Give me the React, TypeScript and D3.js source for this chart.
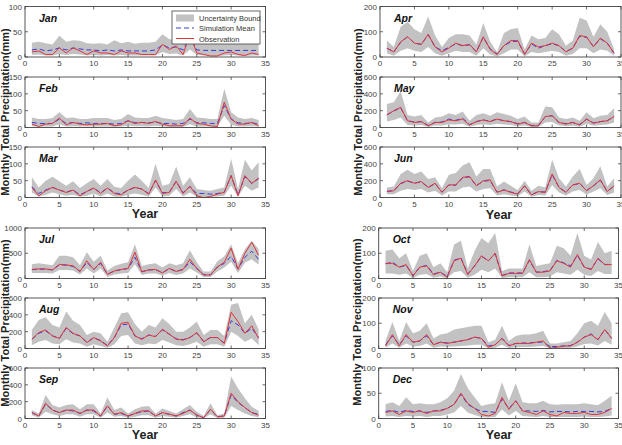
import React from 'react';
import * as d3 from 'd3';

const years = [1, 2, 3, 4, 5, 6, 7, 8, 9, 10, 11, 12, 13, 14, 15, 16, 17, 18, 19, 20, 21, 22, 23, 24, 25, 26, 27, 28, 29, 30, 31, 32, 33, 34];
const xTicks = [0, 5, 10, 15, 20, 25, 30, 35];

// Jan
const janObs = [10, 12, 5, 5, 18, 8, 18, 12, 5, 12, 8, 8, 5, 12, 8, 8, 5, 5, 5, 25, 15, 22, 5, 45, 8, 5, 2, 2, 8, 10, 5, 3, 8, 5];
const janSim = [14, 16, 12, 14, 18, 14, 18, 16, 14, 14, 12, 14, 12, 14, 12, 12, 12, 12, 14, 24, 18, 20, 14, 40, 14, 13, 13, 13, 13, 13, 13, 13, 13, 13];
const janHi = [28, 30, 27, 25, 42, 30, 33, 32, 27, 26, 27, 25, 33, 27, 30, 26, 28, 28, 30, 45, 35, 35, 30, 55, 30, 28, 28, 28, 28, 28, 28, 28, 28, 28];
const janLo = [4, 5, 3, 3, 6, 4, 6, 5, 3, 4, 3, 4, 3, 4, 3, 3, 3, 3, 3, 10, 6, 7, 3, 15, 4, 3, 2, 2, 3, 4, 3, 2, 3, 3];
// Feb
const febObs = [10, 3, 10, 12, 28, 8, 15, 10, 8, 10, 10, 12, 5, 8, 20, 12, 15, 12, 18, 10, 5, 5, 5, 28, 12, 10, 5, 3, 75, 25, 10, 10, 15, 5];
const febSim = [15, 12, 12, 12, 25, 12, 15, 12, 14, 12, 12, 12, 10, 12, 20, 14, 15, 14, 16, 12, 12, 10, 12, 25, 14, 14, 12, 12, 65, 25, 14, 12, 14, 10];
const febHi = [30, 25, 25, 28, 45, 28, 30, 25, 25, 28, 28, 28, 22, 25, 40, 30, 28, 28, 35, 28, 25, 22, 25, 55, 30, 28, 25, 25, 115, 45, 30, 25, 28, 22];
const febLo = [4, 2, 3, 3, 10, 3, 4, 3, 3, 3, 3, 3, 2, 3, 6, 4, 4, 3, 5, 3, 2, 2, 2, 10, 3, 3, 2, 2, 35, 8, 3, 3, 4, 2];
// Mar
const marObs = [30, 5, 20, 30, 22, 15, 22, 5, 18, 28, 12, 28, 12, 8, 22, 30, 25, 10, 52, 12, 15, 48, 12, 33, 5, 0, 3, 10, 15, 65, 5, 65, 42, 58];
const marSim = [32, 12, 22, 30, 22, 16, 22, 8, 18, 28, 14, 28, 14, 10, 22, 30, 25, 12, 50, 14, 16, 48, 14, 33, 12, 12, 10, 12, 16, 65, 8, 62, 42, 56];
const marHi = [60, 30, 50, 62, 48, 35, 48, 28, 42, 55, 35, 55, 32, 28, 50, 68, 50, 28, 100, 35, 40, 92, 35, 60, 25, 22, 20, 25, 30, 115, 25, 112, 80, 105];
const marLo = [15, 2, 8, 15, 10, 5, 8, 2, 5, 12, 3, 12, 3, 2, 8, 12, 8, 2, 30, 3, 5, 25, 3, 15, 2, 2, 2, 3, 5, 35, 2, 35, 20, 30];
// Apr
const aprObs = [35, 20, 60, 80, 55, 50, 90, 40, 20, 35, 55, 45, 50, 20, 80, 30, 10, 45, 65, 65, 10, 55, 40, 45, 55, 45, 20, 35, 85, 80, 40, 75, 55, 15];
const aprSim = [35, 20, 58, 80, 55, 50, 88, 40, 25, 38, 52, 45, 48, 22, 78, 32, 12, 45, 60, 63, 12, 52, 35, 45, 52, 45, 22, 35, 82, 78, 42, 72, 55, 15];
const aprHi = [65, 40, 120, 140, 110, 95, 160, 85, 40, 75, 90, 90, 85, 50, 135, 60, 20, 95, 110, 115, 30, 85, 70, 75, 110, 90, 45, 65, 155, 145, 80, 130, 100, 30];
const aprLo = [15, 5, 25, 35, 25, 20, 40, 15, 5, 15, 25, 20, 20, 5, 35, 10, 2, 15, 30, 30, 2, 20, 15, 20, 25, 20, 5, 12, 35, 35, 15, 30, 25, 5];
// May
const mayObs = [150, 200, 240, 80, 60, 70, 20, 60, 60, 90, 80, 100, 30, 70, 90, 70, 100, 80, 70, 40, 60, 20, 20, 130, 140, 60, 40, 60, 30, 100, 50, 70, 80, 130];
const maySim = [150, 195, 235, 80, 65, 70, 25, 60, 65, 100, 85, 110, 35, 70, 90, 75, 100, 80, 70, 45, 60, 25, 25, 130, 140, 60, 45, 60, 35, 100, 55, 70, 80, 130];
const mayHi = [280, 300, 430, 150, 130, 150, 60, 120, 130, 170, 150, 190, 80, 150, 170, 140, 180, 160, 140, 100, 130, 60, 60, 250, 240, 120, 100, 120, 80, 180, 110, 140, 150, 230];
const mayLo = [70, 90, 120, 30, 25, 30, 5, 25, 25, 40, 35, 45, 10, 30, 40, 30, 45, 35, 30, 15, 25, 5, 5, 60, 65, 25, 15, 20, 10, 45, 20, 30, 35, 60];
// Jun
const junObs = [70, 80, 170, 200, 170, 190, 120, 170, 60, 150, 150, 240, 250, 140, 200, 210, 60, 90, 60, 40, 140, 30, 70, 60, 280, 120, 60, 150, 170, 80, 140, 210, 70, 140];
const junSim = [75, 80, 165, 195, 170, 185, 120, 165, 65, 150, 145, 235, 245, 140, 195, 200, 65, 90, 65, 45, 135, 35, 70, 65, 270, 120, 65, 150, 165, 85, 140, 205, 75, 135];
const junHi = [120, 130, 280, 330, 280, 310, 220, 240, 110, 270, 290, 380, 420, 250, 340, 340, 130, 190, 140, 90, 200, 80, 140, 120, 450, 230, 130, 250, 340, 150, 230, 370, 130, 230];
const junLo = [40, 40, 80, 100, 90, 100, 60, 80, 25, 70, 70, 120, 130, 70, 100, 110, 25, 40, 25, 15, 70, 10, 30, 25, 150, 60, 25, 70, 90, 35, 70, 110, 30, 60];
// Jul
const julObs = [180, 190, 190, 170, 280, 270, 250, 140, 350, 180, 320, 80, 150, 180, 200, 520, 130, 170, 180, 110, 200, 140, 180, 380, 200, 70, 70, 230, 320, 600, 180, 500, 720, 460];
const julSim = [175, 185, 185, 170, 270, 265, 240, 140, 320, 180, 300, 85, 150, 175, 200, 420, 135, 170, 175, 115, 195, 140, 175, 330, 200, 75, 75, 225, 300, 440, 190, 420, 540, 380];
const julHi = [280, 300, 280, 260, 450, 450, 420, 260, 520, 330, 450, 160, 250, 290, 320, 680, 250, 280, 300, 220, 300, 260, 300, 560, 320, 140, 140, 340, 440, 680, 300, 580, 750, 580];
const julLo = [110, 110, 110, 100, 170, 170, 160, 80, 200, 100, 200, 30, 80, 100, 110, 280, 70, 100, 100, 60, 110, 70, 100, 200, 120, 30, 30, 140, 220, 330, 110, 310, 380, 270];
// Aug
const augObs = [110, 190, 220, 150, 120, 250, 180, 150, 70, 130, 90, 30, 130, 300, 310, 150, 110, 160, 140, 230, 170, 110, 100, 130, 190, 80, 130, 130, 60, 430, 320, 180, 270, 120];
const augSim = [110, 180, 210, 150, 120, 240, 175, 150, 75, 125, 95, 35, 130, 280, 290, 150, 115, 160, 145, 220, 170, 115, 105, 130, 185, 85, 130, 130, 65, 330, 280, 180, 240, 130];
const augHi = [220, 340, 370, 280, 250, 440, 330, 280, 160, 200, 180, 80, 250, 420, 430, 290, 200, 280, 250, 360, 290, 200, 200, 250, 320, 160, 220, 220, 150, 520, 540, 300, 400, 230];
const augLo = [40, 80, 100, 60, 50, 110, 70, 60, 20, 50, 30, 10, 50, 150, 160, 60, 40, 60, 50, 100, 70, 40, 30, 50, 80, 20, 50, 50, 20, 200, 150, 80, 120, 40];
// Sep
const sepObs = [70, 30, 180, 100, 70, 100, 100, 60, 100, 100, 30, 150, 50, 70, 30, 60, 90, 90, 30, 70, 50, 30, 60, 100, 40, 10, 110, 20, 30, 300, 200, 130, 70, 40];
const sepSim = [70, 30, 170, 100, 70, 100, 90, 60, 100, 90, 30, 150, 50, 60, 30, 60, 80, 90, 30, 70, 50, 30, 70, 100, 40, 10, 110, 20, 30, 280, 190, 130, 70, 50];
const sepHi = [100, 60, 280, 160, 130, 160, 170, 110, 170, 170, 60, 250, 100, 130, 60, 110, 140, 150, 60, 120, 90, 60, 110, 160, 80, 30, 180, 40, 60, 500, 360, 240, 140, 90];
const sepLo = [40, 10, 80, 50, 30, 50, 50, 20, 50, 50, 10, 70, 20, 30, 10, 20, 40, 40, 10, 30, 20, 10, 30, 50, 15, 2, 50, 5, 10, 150, 100, 60, 30, 15];
// Oct
const octObs = [60, 60, 45, 55, 10, 45, 50, 15, 25, 5, 70, 80, 15, 50, 90, 70, 100, 10, 20, 20, 20, 75, 25, 25, 30, 70, 60, 45, 95, 45, 35, 80, 55, 55];
const octSim = [58, 65, 45, 52, 12, 45, 52, 18, 25, 8, 72, 82, 18, 50, 88, 70, 98, 12, 22, 22, 22, 72, 25, 27, 32, 72, 62, 50, 92, 45, 37, 78, 55, 57];
const octHi = [110, 115, 80, 100, 30, 90, 100, 45, 60, 25, 135, 150, 40, 110, 160, 140, 180, 30, 40, 40, 40, 135, 50, 55, 60, 130, 120, 90, 180, 90, 75, 145, 100, 110];
const octLo = [20, 20, 15, 20, 2, 15, 18, 3, 8, 1, 25, 30, 3, 15, 35, 25, 40, 2, 5, 5, 5, 25, 5, 5, 8, 25, 20, 15, 35, 15, 10, 30, 18, 18];
// Nov
const novObs = [10, 55, 10, 55, 25, 30, 55, 15, 25, 20, 25, 30, 35, 45, 40, 5, 15, 40, 10, 20, 20, 20, 25, 30, 0, 5, 10, 10, 25, 45, 55, 35, 75, 40];
const novSim = [15, 50, 15, 50, 25, 30, 50, 15, 25, 22, 25, 30, 35, 45, 40, 10, 15, 40, 12, 20, 22, 22, 25, 25, 8, 8, 10, 12, 25, 45, 58, 35, 75, 40];
const novHi = [30, 105, 30, 105, 60, 70, 100, 40, 55, 60, 75, 80, 85, 90, 90, 25, 35, 90, 30, 50, 55, 55, 60, 70, 20, 20, 25, 30, 60, 100, 110, 90, 145, 100];
const novLo = [3, 20, 3, 20, 8, 10, 20, 3, 8, 7, 8, 10, 12, 15, 15, 1, 3, 15, 2, 5, 6, 6, 8, 10, 1, 1, 2, 3, 8, 18, 20, 12, 30, 15];
// Dec
const decObs = [12, 15, 8, 15, 12, 15, 10, 15, 15, 20, 28, 50, 30, 20, 8, 5, 10, 42, 18, 35, 15, 12, 8, 15, 8, 5, 12, 10, 10, 12, 8, 8, 12, 20];
const decSim = [14, 16, 12, 16, 14, 15, 12, 15, 16, 20, 28, 48, 28, 20, 14, 14, 12, 38, 20, 35, 15, 15, 14, 16, 13, 14, 14, 13, 14, 14, 14, 13, 14, 20];
const decHi = [28, 32, 25, 42, 28, 30, 28, 28, 32, 40, 55, 88, 60, 42, 25, 28, 30, 72, 35, 70, 32, 30, 30, 35, 28, 27, 28, 28, 28, 30, 28, 26, 35, 45];
const decLo = [4, 5, 3, 5, 4, 5, 3, 5, 5, 8, 12, 25, 12, 7, 3, 2, 3, 18, 6, 15, 5, 4, 3, 5, 3, 3, 3, 3, 3, 4, 3, 3, 4, 6];

const FONT = '"Liberation Sans", Arial, sans-serif';
const BAND = '#c2c2c2';
const SIM = '#3a3ad8';
const OBS = '#e0343c';

// column extents (the right-hand column runs to the page edge, as in the source figure)
const LEFT = { x0: 25, x1: 265.5 };
const RIGHT_TOP = { x0: 380, x1: 621 };
const RIGHT_BOT = { x0: 378.7, x1: 618.5 };
const ROWS = [6.5, 77, 147, 228, 298, 368];
const PH = 50.5;

type PanelProps = {
  name: string; col: { x0: number; x1: number }; top: number; yTicks: number[];
  obs: number[]; sim: number[]; hi: number[]; lo: number[]; legend?: boolean;
};

function Panel({ name, col, top, yTicks, obs, sim, hi, lo, legend }: PanelProps) {
  const x = d3.scaleLinear().domain([0, 35]).range([col.x0, col.x1]);
  const y = d3.scaleLinear().domain([0, yTicks[yTicks.length - 1]]).range([top + PH, top]);
  const area = d3.area<number>().x((_, i) => x(years[i])).y0((_, i) => y(lo[i])).y1(d => y(d));
  const line = d3.line<number>().x((_, i) => x(years[i])).y(d => y(d));
  const bottom = top + PH;
  const tl = 3;
  return (
    <g>
      <path d={area(hi) || ''} fill={BAND} />
      <path d={line(sim) || ''} fill="none" stroke={SIM} strokeWidth={1} strokeDasharray="5,3" />
      <path d={line(obs) || ''} fill="none" stroke={OBS} strokeWidth={1} />
      <rect x={col.x0} y={top} width={col.x1 - col.x0} height={PH} fill="none" stroke="#444" strokeWidth={0.9} />
      {xTicks.map(t => (
        <g key={'x' + t}>
          <line x1={x(t)} x2={x(t)} y1={bottom} y2={bottom - tl} stroke="#444" strokeWidth={0.8} />
          <line x1={x(t)} x2={x(t)} y1={top} y2={top + tl} stroke="#444" strokeWidth={0.8} />
          <text x={x(t)} y={bottom + 9} fontSize={8} textAnchor="middle" fill="#444" fontFamily={FONT}>{t}</text>
        </g>
      ))}
      {yTicks.map(t => (
        <g key={'y' + t}>
          <line x1={col.x0} x2={col.x0 + tl} y1={y(t)} y2={y(t)} stroke="#444" strokeWidth={0.8} />
          <line x1={col.x1} x2={col.x1 - tl} y1={y(t)} y2={y(t)} stroke="#444" strokeWidth={0.8} />
          <text x={col.x0 - 3} y={y(t) + 3} fontSize={8} textAnchor="end" fill="#444" fontFamily={FONT}>{t}</text>
        </g>
      ))}
      <text x={col.x0 + 14} y={top + 15} fontSize={10.5} fontWeight="bold" fontStyle="italic" fill="#111" fontFamily={FONT}>{name}</text>
      {legend && (
        <g fontFamily={FONT} fontSize={7.5} fill="#333">
          <rect x={172} y={top + 4.5} width={88} height={33} fill="#fff" stroke="#444" strokeWidth={0.8} />
          <rect x={176} y={top + 8} width={18} height={7} fill={BAND} />
          <text x={199} y={top + 14}>Uncertainty Bound</text>
          <line x1={176} x2={194} y1={top + 21.5} y2={top + 21.5} stroke={SIM} strokeDasharray="5,3" />
          <text x={199} y={top + 24.5}>Simulation Mean</text>
          <line x1={176} x2={194} y1={top + 32} y2={top + 32} stroke={OBS} />
          <text x={199} y={top + 35}>Observation</text>
        </g>
      )}
    </g>
  );
}

const yLabel = 'Monthly Total Precipitation(mm)';

export default function App() {
  return (
    <svg width={622} height={445} style={{ position: 'absolute', left: 0, top: 0, background: '#fff' }}>
      <Panel name="Jan" col={LEFT} top={ROWS[0]} yTicks={[0, 50, 100]} obs={janObs} sim={janSim} hi={janHi} lo={janLo} legend />
      <Panel name="Feb" col={LEFT} top={ROWS[1]} yTicks={[0, 50, 100, 150]} obs={febObs} sim={febSim} hi={febHi} lo={febLo} />
      <Panel name="Mar" col={LEFT} top={ROWS[2]} yTicks={[0, 50, 100, 150]} obs={marObs} sim={marSim} hi={marHi} lo={marLo} />
      <Panel name="Jul" col={LEFT} top={ROWS[3]} yTicks={[0, 500, 1000]} obs={julObs} sim={julSim} hi={julHi} lo={julLo} />
      <Panel name="Aug" col={LEFT} top={ROWS[4]} yTicks={[0, 200, 400, 600]} obs={augObs} sim={augSim} hi={augHi} lo={augLo} />
      <Panel name="Sep" col={LEFT} top={ROWS[5]} yTicks={[0, 200, 400, 600]} obs={sepObs} sim={sepSim} hi={sepHi} lo={sepLo} />
      <Panel name="Apr" col={RIGHT_TOP} top={ROWS[0]} yTicks={[0, 100, 200]} obs={aprObs} sim={aprSim} hi={aprHi} lo={aprLo} />
      <Panel name="May" col={RIGHT_TOP} top={ROWS[1]} yTicks={[0, 200, 400, 600]} obs={mayObs} sim={maySim} hi={mayHi} lo={mayLo} />
      <Panel name="Jun" col={RIGHT_TOP} top={ROWS[2]} yTicks={[0, 200, 400, 600]} obs={junObs} sim={junSim} hi={junHi} lo={junLo} />
      <Panel name="Oct" col={RIGHT_BOT} top={ROWS[3]} yTicks={[0, 100, 200]} obs={octObs} sim={octSim} hi={octHi} lo={octLo} />
      <Panel name="Nov" col={RIGHT_BOT} top={ROWS[4]} yTicks={[0, 100, 200]} obs={novObs} sim={novSim} hi={novHi} lo={novLo} />
      <Panel name="Dec" col={RIGHT_BOT} top={ROWS[5]} yTicks={[0, 50, 100]} obs={decObs} sim={decSim} hi={decHi} lo={decLo} />
      <g fontFamily={FONT} fontWeight="bold" fill="#222">
        <text x={145} y={218} fontSize={12.5} textAnchor="middle">Year</text>
        <text x={145} y={439} fontSize={12.5} textAnchor="middle">Year</text>
        <text x={499} y={219} fontSize={12.5} textAnchor="middle">Year</text>
        <text x={499} y={439} fontSize={12.5} textAnchor="middle">Year</text>
        <text transform="translate(9,112) rotate(-90)" fontSize={11} textAnchor="middle">{yLabel}</text>
        <text transform="translate(9,323) rotate(-90)" fontSize={11} textAnchor="middle">{yLabel}</text>
        <text transform="translate(362,112) rotate(-90)" fontSize={11} textAnchor="middle">{yLabel}</text>
        <text transform="translate(361,322) rotate(-90)" fontSize={11} textAnchor="middle">{yLabel}</text>
      </g>
    </svg>
  );
}
